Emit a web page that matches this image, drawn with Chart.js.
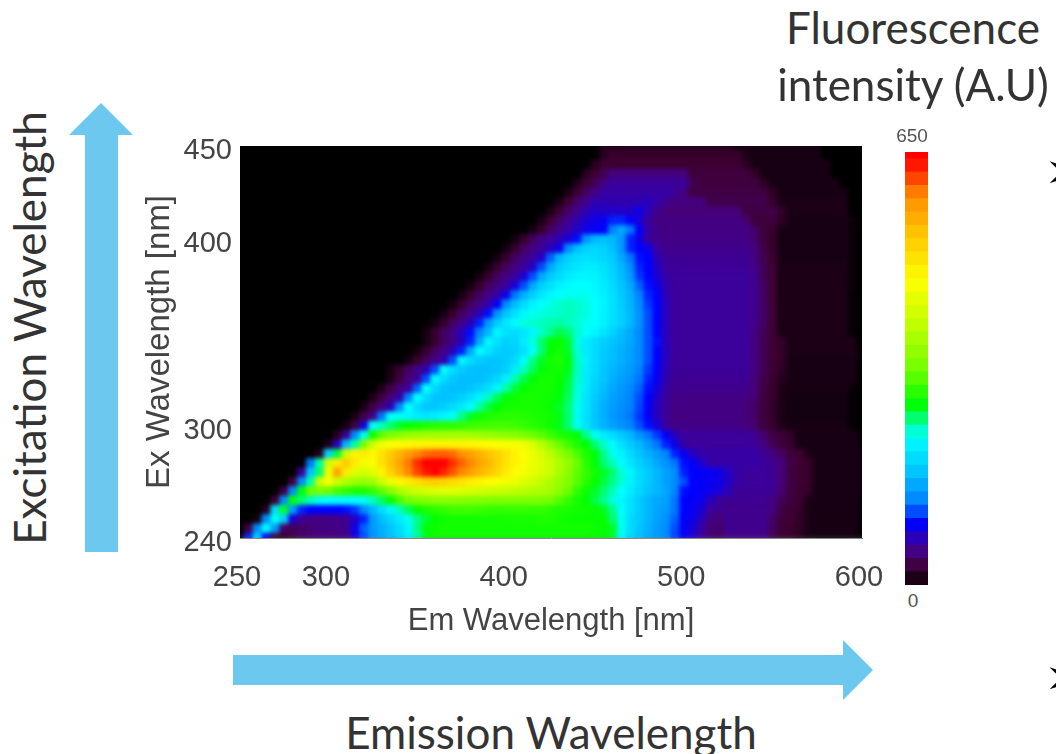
<!DOCTYPE html>
<html>
<head>
<meta charset="utf-8">
<title>Excitation emission map</title>
<script src="https://cdn.jsdelivr.net/npm/chart.js@4"></script>
<style>
  html, body { margin: 0; padding: 0; background: #fff; }
  #page { position: relative; width: 1056px; height: 754px; overflow: hidden; font-family: Lato, sans-serif; color: #333; }
  .abs { position: absolute; white-space: nowrap; }
  .big { font-size: 44px; line-height: 50px; transform: translate(-50%, -50%); }
  .small { font-family: "Liberation Sans", sans-serif; font-size: 19px; color: #555; transform: translate(-50%, -50%); }
  canvas { filter: blur(0.5px); }
</style>
</head>
<body>
<div id="page">
  <svg class="abs" style="left:0;top:0" width="1056" height="754">
    <polygon points="85,552 85,135 69,135 101,103 133,135 118,135 118,552" fill="#6cc8ef"/>
    <polygon points="233,655 843,655 843,640 873,670 843,700 843,685 233,685" fill="#6cc8ef"/>
  </svg>
  <div class="abs" style="left:140px;top:130px;width:760px;height:510px"><canvas id="mapChart"></canvas></div>
  <div class="abs" style="left:905px;top:152px;width:23px;height:433px"><canvas id="barChart"></canvas></div>
  <div class="abs small" style="left:912px;top:136px">650</div>
  <div class="abs small" style="left:913px;top:601px">0</div>
  <div class="abs big" style="left:913px;top:27px">Fluorescence</div>
  <div class="abs big" style="left:913px;top:84px">intensity (A.U)</div>
  <div class="abs big" style="left:551px;top:732px">Emission Wavelength</div>
  <div class="abs big" style="left:29px;top:328px;transform:translate(-50%,-50%) rotate(-90deg)">Excitation Wavelength</div>
  <div class="abs" style="left:1044px;top:142px;font:50px 'DejaVu Sans';color:#000">&#10146;</div>
  <div class="abs" style="left:1044px;top:648px;font:50px 'DejaVu Sans';color:#000">&#10146;</div>
</div>
<script>
const emWavelengths = [250,255,260,265,270,275,280,285,290,295, 300,305,310,315,320,325,330,335,340,345, 350,355,360,365,370,375,380,385,390,395, 400,405,410,415,420,425,430,435,440,445, 450,455,460,465,470,475,480,485,490,495, 500,505,510,515,520,525,530,535,540,545, 550,555,560,565,570,575,580,585,590,595, 600];
const exWavelengths = [450,445,440,435,430,425,420,415,410,405,400,395,390,385,380,375,370,365,360,355,350,345,340,335,330,325,320,315,310,305,300,295,290,285,280,275,270,265,260,255,250,245,240];
const emTicks = [250, 300, 400, 500, 600];
const exTicks = [240, 300, 400, 450];

// one row per excitation wavelength, groups of ten emission columns
const intensity = [
[0,0,0,0,0,0,0,0,0,0, 0,0,0,0,0,0,0,0,0,0, 0,0,0,0,0,0,0,0,0,0, 0,0,0,0,0,0,0,0,0,0, 0,15,15,15,15,15,15,15,15,15, 15,15,15,15,15,15,8,8,8,8, 8,8,8,8,8,8,0,0,0,0, 0],
[0,0,0,0,0,0,0,0,0,0, 0,0,0,0,0,0,0,0,0,0, 0,0,0,0,0,0,0,0,0,0, 0,0,0,0,0,0,0,0,0,0, 0,15,22,22,22,22,22,22,22,22, 22,22,22,22,22,22,22,12,8,8, 8,8,8,8,8,8,0,0,0,0, 0],
[0,0,0,0,0,0,0,0,0,0, 0,0,0,0,0,0,0,0,0,0, 0,0,0,0,0,0,0,0,0,0, 0,0,0,0,0,0,0,0,0,0, 15,25,25,25,25,25,25,25,25,25, 25,25,25,25,25,25,25,18,9,9, 9,9,9,9,9,9,9,0,0,0, 0],
[0,0,0,0,0,0,0,0,0,0, 0,0,0,0,0,0,0,0,0,0, 0,0,0,0,0,0,0,0,0,0, 0,0,0,0,0,0,0,0,0,15, 25,35,48,48,48,48,48,48,48,48, 48,28,28,28,28,28,28,28,20,9, 9,9,9,9,9,9,9,0,0,0, 0],
[0,0,0,0,0,0,0,0,0,0, 0,0,0,0,0,0,0,0,0,0, 0,0,0,0,0,0,0,0,0,0, 0,0,0,0,0,0,0,0,12,25, 35,50,62,62,62,62,62,62,62,62, 62,35,28,28,28,28,28,28,28,18, 9,9,9,9,9,9,9,9,0,0, 0],
[0,0,0,0,0,0,0,0,0,0, 0,0,0,0,0,0,0,0,0,0, 0,0,0,0,0,0,0,0,0,0, 0,0,0,0,0,0,0,10,25,38, 50,65,65,65,65,65,65,65,65,60, 50,30,30,30,30,30,30,30,30,30, 18,9,9,9,9,9,9,9,9,0, 0],
[0,0,0,0,0,0,0,0,0,0, 0,0,0,0,0,0,0,0,0,0, 0,0,0,0,0,0,0,0,0,0, 0,0,0,0,0,0,10,25,40,55, 68,68,68,68,68,68,72,65,58,48, 48,48,48,32,32,32,32,32,32,32, 22,10,10,10,10,10,10,10,10,0, 0],
[0,0,0,0,0,0,0,0,0,0, 0,0,0,0,0,0,0,0,0,0, 0,0,0,0,0,0,0,0,0,0, 0,0,0,0,0,10,25,40,55,68, 75,75,75,75,75,85,70,55,45,45, 45,45,45,45,45,45,45,30,30,30, 30,20,10,10,10,10,10,10,10,0, 0],
[0,0,0,0,0,0,0,0,0,0, 0,0,0,0,0,0,0,0,0,0, 0,0,0,0,0,0,0,0,0,0, 0,0,0,0,10,25,40,55,68,78, 85,88,100,100,90,80,62,50,50,50, 50,50,50,50,50,50,50,42,28,28, 28,18,9,9,9,9,9,9,9,5, 0],
[0,0,0,0,0,0,0,0,0,0, 0,0,0,0,0,0,0,0,0,0, 0,0,0,0,0,0,0,0,0,0, 0,0,0,8,22,38,52,65,75,85, 88,92,125,150,120,90,65,55,50,50, 50,50,50,50,50,50,50,50,40,28, 22,9,9,9,9,9,9,9,9,4, 0],
[0,0,0,0,0,0,0,0,0,0, 0,0,0,0,0,0,0,0,0,0, 0,0,0,0,0,0,0,0,0,0, 0,8,22,38,50,62,70,80,95,135, 160,165,160,140,100,85,62,55,52,52, 52,52,52,52,52,52,52,52,42,28, 20,9,9,9,9,9,9,9,9,4, 0],
[0,0,0,0,0,0,0,0,0,0, 0,0,0,0,0,0,0,0,0,0, 0,0,0,0,0,0,0,0,0,0, 8,22,38,50,62,72,85,130,165,180, 185,180,165,140,100,92,85,62,55,55, 55,55,55,55,55,55,55,55,45,30, 22,9,9,9,9,9,9,9,9,4, 0],
[0,0,0,0,0,0,0,0,0,0, 0,0,0,0,0,0,0,0,0,0, 0,0,0,0,0,0,0,0,0,8, 22,38,50,62,75,115,160,180,190,195, 190,185,175,150,120,95,92,70,60,58, 58,58,58,58,58,58,58,58,50,32, 24,9,9,9,9,9,9,9,9,4, 0],
[0,0,0,0,0,0,0,0,0,0, 0,0,0,0,0,0,0,0,0,0, 0,0,0,0,0,0,0,0,8,22, 38,50,62,75,110,150,175,190,200,205, 205,195,180,160,130,100,92,75,62,60, 60,60,60,60,60,60,60,60,52,35, 25,10,10,10,10,10,10,10,10,4, 0],
[0,0,0,0,0,0,0,0,0,0, 0,0,0,0,0,0,0,0,0,0, 0,0,0,0,0,0,0,8,22,38, 50,62,78,110,150,175,190,205,212,215, 212,200,185,165,140,105,92,80,65,62, 62,62,62,62,62,62,62,62,55,35, 25,10,10,10,10,10,10,10,10,4, 0],
[0,0,0,0,0,0,0,0,0,0, 0,0,0,0,0,0,0,0,0,0, 0,0,0,0,0,0,8,22,38,50, 62,80,110,150,178,195,210,218,222,222, 215,205,190,170,150,115,95,85,68,62, 62,62,62,62,62,62,62,62,55,38, 25,10,10,10,10,10,10,10,10,4, 0],
[0,0,0,0,0,0,0,0,0,0, 0,0,0,0,0,0,0,0,0,0, 0,0,0,0,0,8,22,38,50,65, 85,120,155,180,200,215,222,225,225,225, 220,210,195,175,155,125,100,90,70,62, 62,62,62,62,62,62,62,62,55,38, 25,10,10,10,10,10,10,10,10,3, 0],
[0,0,0,0,0,0,0,0,0,0, 0,0,0,0,0,0,0,0,0,0, 0,0,0,0,8,22,38,50,68,90, 130,165,190,210,222,228,232,235,232,228, 222,212,195,178,158,130,105,92,72,62, 62,62,62,62,62,62,62,62,55,38, 26,10,10,10,10,10,10,10,10,3, 0],
[0,0,0,0,0,0,0,0,0,0, 0,0,0,0,0,0,0,0,0,0, 0,0,0,8,22,38,52,70,95,135, 170,195,215,225,228,230,232,235,232,228, 222,212,195,180,160,135,110,92,72,62, 62,62,62,62,62,62,62,62,55,38, 26,10,10,10,10,10,10,10,10,3, 0],
[0,0,0,0,0,0,0,0,0,0, 0,0,0,0,0,0,0,0,0,0, 0,0,8,22,38,52,72,100,140,175, 200,218,228,232,235,238,240,235,230,225, 222,210,195,180,160,135,110,92,72,62, 62,62,62,62,62,62,62,62,52,38, 26,10,10,10,10,10,10,10,10,3, 0],
[0,0,0,0,0,0,0,0,0,0, 0,0,0,0,0,0,0,0,0,0, 0,8,22,38,52,72,95,125,160,215, 195,190,200,215,232,245,258,250,232,222, 212,198,182,165,150,130,110,92,72,62, 62,62,62,62,62,62,62,62,50,35, 25,10,10,10,10,10,10,10,10,3, 0],
[0,0,0,0,0,0,0,0,0,0, 0,0,0,0,0,0,0,0,0,0, 0,8,22,38,52,72,100,150,215,195, 180,185,205,228,250,270,275,262,228,205, 190,178,170,160,150,130,110,95,72,62, 62,62,62,62,62,62,62,62,50,35, 25,22,10,10,10,10,10,10,10,10, 0],
[0,0,0,0,0,0,0,0,0,0, 0,0,0,0,0,0,0,0,0,0, 8,22,38,52,70,100,150,220,200,180, 175,180,195,222,250,272,280,265,230,205, 190,175,165,155,145,130,110,92,72,62, 62,62,62,62,62,62,62,62,48,35, 25,20,10,10,10,10,10,10,10,10, 2],
[0,0,0,0,0,0,0,0,0,0, 0,0,0,0,0,0,0,0,0,8, 22,38,52,68,110,215,190,175,170,170, 175,190,220,245,265,280,285,270,235,210, 190,175,165,155,145,130,110,92,72,62, 62,62,62,62,62,62,62,62,48,35, 25,20,9,9,9,9,9,9,9,9, 2],
[0,0,0,0,0,0,0,0,0,0, 0,0,0,0,0,0,0,8,22,38, 52,68,110,220,190,175,168,165,165,170, 180,205,235,255,270,278,280,268,235,205, 190,170,160,150,140,125,105,90,70,60, 60,60,60,60,60,60,60,60,48,35, 25,18,9,9,9,9,9,9,9,9, 0],
[0,0,0,0,0,0,0,0,0,0, 0,0,0,0,0,0,0,10,28,45, 60,110,220,190,172,165,165,165,172,185, 210,238,258,272,280,280,275,262,232,205, 185,170,155,145,135,120,100,88,68,58, 58,58,58,58,58,58,58,58,45,32, 22,15,9,9,9,9,9,9,9,9, 0],
[0,0,0,0,0,0,0,0,0,0, 0,0,0,0,0,0,12,30,48,62, 115,222,188,170,165,165,170,180,195,215, 240,260,272,280,282,280,272,258,230,205, 180,165,150,140,128,115,95,82,65,55, 55,55,55,55,55,55,55,55,45,30, 22,12,8,8,8,8,8,8,8,4, 0],
[0,0,0,0,0,0,0,0,0,0, 0,0,0,0,0,12,30,48,65,125, 222,190,170,168,170,180,195,212,235,255, 270,278,282,282,280,278,270,255,228,200, 175,160,145,135,125,110,92,75,62,52, 52,52,52,52,52,52,52,48,42,28, 22,10,7,7,7,7,7,7,7,2, 0],
[0,0,0,0,0,0,0,0,0,0, 0,0,0,0,10,30,48,70,130,222, 190,172,172,178,190,205,220,240,260,272, 280,282,282,282,280,275,265,250,225,198, 172,155,142,132,122,108,90,72,60,50, 50,50,50,50,50,50,50,46,40,28, 20,10,7,7,7,7,7,7,7,2, 0],
[0,0,0,0,0,0,0,0,0,0, 0,0,0,10,32,55,120,222,225,215, 205,200,205,215,225,245,265,278,285,288, 290,290,288,285,282,278,268,250,225,195, 170,155,140,130,120,105,90,72,60,50, 50,50,50,50,50,50,50,46,40,28, 20,10,7,7,7,7,7,7,7,2, 0],
[0,0,0,0,0,0,0,0,0,0, 0,0,8,30,80,222,235,250,265,275, 280,285,288,290,292,295,298,300,300,302, 302,300,295,290,285,278,268,250,225,198, 172,158,145,135,125,110,95,80,62,52, 52,52,52,52,52,52,52,48,42,28, 22,12,8,8,8,8,8,8,8,2, 0],
[0,0,0,0,0,0,0,0,0,0, 0,15,60,130,225,280,315,335,345,355, 360,365,365,365,365,365,365,360,355,350, 345,340,330,320,310,298,285,280,270,245, 225,205,190,175,160,135,120,105,90,72, 62,62,62,62,62,62,62,62,58,42, 30,26,20,9,9,9,9,9,9,9, 3],
[0,0,0,0,0,0,0,0,0,0, 12,70,160,240,330,400,440,450,460,465, 470,470,470,470,470,470,468,465,460,455, 450,445,440,415,385,350,320,300,285,272, 250,232,218,195,175,160,140,120,100,85, 65,62,62,62,62,62,62,62,62,48, 35,28,22,9,9,9,9,9,9,9, 5],
[0,0,0,0,0,0,0,0,0,15, 180,260,400,470,480,465,490,520,545,570, 585,595,600,600,595,580,565,545,525,510, 490,470,455,435,410,385,355,330,305,285, 270,245,225,210,190,170,155,140,125,100, 88,75,65,65,65,65,65,65,65,58, 50,38,28,25,12,9,9,9,9,9, 6],
[0,0,0,0,0,0,0,0,120,240, 400,480,520,480,445,450,490,525,560,590, 620,640,650,640,620,600,585,560,540,515, 490,470,450,435,420,400,375,350,320,290, 270,250,235,220,200,180,165,150,135,120, 95,90,78,65,65,65,65,65,65,62, 55,45,32,25,22,9,9,9,9,9, 6],
[0,0,0,0,0,0,0,60,170,250, 440,560,480,420,410,425,470,510,545,585, 610,630,640,625,605,585,565,545,525,505, 480,460,445,430,415,400,370,345,315,295, 280,265,250,230,215,190,175,160,145,130, 100,92,90,88,85,75,65,62,62,62, 60,45,30,25,22,9,9,9,9,9, 6],
[0,0,0,0,0,0,30,130,240,400, 450,400,375,360,355,365,400,435,465,480, 495,510,515,510,500,490,480,470,460,450, 445,435,420,405,390,375,355,335,310,290, 275,260,245,230,212,190,175,160,145,130, 110,92,90,88,85,75,65,62,62,62, 60,45,30,25,22,9,9,9,9,9, 6],
[0,0,0,0,0,30,130,270,320,330, 320,305,295,285,285,295,315,340,370,390, 405,415,420,425,425,420,415,410,405,400, 395,390,385,380,375,365,345,320,295,278, 265,250,235,222,205,185,170,160,150,125, 95,92,90,85,80,70,60,60,60,60, 58,42,30,25,20,9,9,9,9,9, 6],
[0,0,0,0,25,130,270,250,235,225, 222,218,218,222,225,235,255,275,305,325, 335,340,345,345,345,342,340,338,336,335, 335,335,335,335,332,325,310,295,282,272, 258,245,228,215,195,175,160,150,145,120, 92,90,85,72,62,58,58,58,58,58, 50,35,28,24,12,9,9,9,9,9, 5],
[0,0,0,15,190,265,140,100,92,92, 92,92,95,105,130,160,190,215,235,255, 275,285,290,295,300,300,300,298,295,295, 295,295,295,295,295,290,285,282,280,278, 275,265,245,222,195,175,160,148,140,120, 92,88,80,62,58,55,55,55,55,55, 48,30,26,22,10,8,8,8,8,8, 5],
[0,0,8,130,225,180,80,58,52,50, 50,52,58,75,100,140,165,185,205,225, 245,262,272,278,280,280,280,280,280,280, 282,282,282,282,285,285,280,278,276,276, 275,275,250,225,190,175,160,145,135,115, 90,85,72,50,45,58,55,55,55,55, 40,28,25,20,10,8,8,8,8,8, 4],
[0,30,130,220,140,40,35,40,45,48, 50,50,55,85,115,140,155,170,190,215, 245,270,278,280,280,280,280,280,280,280, 280,280,280,280,280,280,280,280,280,280, 278,275,265,225,190,170,155,142,130,110, 90,80,65,45,42,55,55,55,55,55, 38,26,24,18,10,8,8,8,8,8, 3],
[5,100,180,90,25,20,30,38,42,45, 48,48,52,80,110,135,150,168,188,212, 240,268,276,278,278,278,278,278,278,278, 278,278,278,278,278,278,278,278,278,278, 276,272,262,222,188,168,152,140,128,108, 88,78,62,42,40,52,52,52,52,52, 36,24,22,16,8,6,6,6,6,6, 2]
];

// colour scale
const colorStops = [0, 8, 25, 45, 62, 92, 122, 172, 222, 242, 272, 322, 397, 457, 522, 582, 612, 640, 650];
const colorStopRgb = [
  [0,0,0],[22,0,18],[62,0,50],[70,0,120],[60,0,155],[0,0,255],[0,128,255],[0,200,255],[0,255,255],[0,255,153],
  [0,255,0],[112,255,0],[200,255,0],[255,255,0],[255,200,0],[255,144,0],[255,64,0],[255,0,0],[255,0,0]
];
const colorbarBands = [0,20,40,60,80,100,120,140,160,180,200,220,240,260,280,300,320,340,360,380,400,420,440,460,480,500,520,540,560,580,600,620,640];
const colorbarHeights = [20,20,20,20,20,20,20,20,20,20,20,20,20,20,20,20,20,20,20,20,20,20,20,20,20,20,20,20,20,20,20,20,10];

const colorFor = value => {
  let i = 0;
  while (i < colorStops.length - 2 && value > colorStops[i + 1]) i++;
  const t = Math.min(1, (value - colorStops[i]) / (colorStops[i + 1] - colorStops[i]));
  const c = colorStopRgb[i].map((a, k) => Math.round(a + (colorStopRgb[i + 1][k] - a) * t));
  return `rgb(${c[0]},${c[1]},${c[2]})`;
};

const axisFont = "'Liberation Sans', sans-serif";

const cells = [];
const cellColors = [];
exWavelengths.forEach((ex, r) => {
  emWavelengths.forEach((em, c) => {
    cells.push({ x: em, y: ex });
    cellColors.push(colorFor(intensity[r][c]));
  });
});

// soften the cells a bit, the source image is a low-res scan
const softenPlugin = {
  id: 'soften',
  afterDatasetsDraw(chart) {
    const { ctx, chartArea: a } = chart;
    ctx.save();
    ctx.beginPath();
    ctx.rect(a.left, a.top, a.right - a.left, a.bottom - a.top);
    ctx.clip();
    ctx.filter = 'blur(2.2px)';
    ctx.drawImage(chart.canvas, 0, 0);
    ctx.restore();
  }
};

// the tick labels overhang the plot, without this the plot area shrinks
const noOverhang = axis => {
  axis.paddingLeft = 0;
  axis.paddingRight = 0;
  axis.paddingTop = 0;
  axis.paddingBottom = 0;
};

new Chart(document.getElementById('mapChart'), {
  type: 'scatter',
  data: {
    datasets: [{
      data: cells,
      pointStyle: 'rect',
      pointRadius: 7.2,
      pointBorderWidth: 0,
      pointBackgroundColor: cellColors
    }]
  },
  plugins: [softenPlugin],
  options: {
    responsive: true,
    maintainAspectRatio: false,
    animation: false,
    layout: { autoPadding: false, padding: { top: 16, right: 38, left: 0, bottom: 0 } },
    plugins: { legend: { display: false }, tooltip: { enabled: false } },
    scales: {
      x: {
        type: 'linear',
        min: 250,
        max: 600,
        grid: { display: false, drawTicks: false },
        border: { color: '#888' },
        afterBuildTicks: axis => { axis.ticks = emTicks.map(v => ({ value: v })); },
        afterFit: axis => { axis.height = 102; noOverhang(axis); },
        ticks: { autoSkip: false, maxRotation: 0, padding: 23, labelOffset: -3, color: '#444', font: { family: axisFont, size: 29 } },
        title: { display: true, text: 'Em Wavelength [nm]', color: '#444', padding: { top: 6, bottom: 0 }, font: { family: axisFont, size: 31 } }
      },
      y: {
        type: 'linear',
        min: 240,
        max: 450,
        grid: { display: false, drawTicks: false },
        border: { color: '#888' },
        afterBuildTicks: axis => { axis.ticks = exTicks.map(v => ({ value: v })); },
        afterFit: axis => { axis.width = 100; noOverhang(axis); },
        ticks: { autoSkip: false, padding: 8, labelOffset: 5, color: '#444', font: { family: axisFont, size: 29 } },
        title: { display: true, text: 'Ex Wavelength [nm]', color: '#444', padding: { top: 0, bottom: 4 }, font: { family: axisFont, size: 33 } }
      }
    }
  }
});

new Chart(document.getElementById('barChart'), {
  type: 'bar',
  data: {
    labels: ['intensity'],
    datasets: colorbarBands.map((band, i) => ({
      data: [colorbarHeights[i]],
      backgroundColor: colorFor(band + colorbarHeights[i] / 2),
      barPercentage: 1,
      categoryPercentage: 1,
      borderWidth: 0
    }))
  },
  options: {
    responsive: true,
    maintainAspectRatio: false,
    animation: false,
    plugins: { legend: { display: false }, tooltip: { enabled: false } },
    scales: {
      x: { display: false, stacked: true },
      y: { display: false, stacked: true, min: 0, max: 650 }
    }
  }
});
</script>
</body>
</html>
